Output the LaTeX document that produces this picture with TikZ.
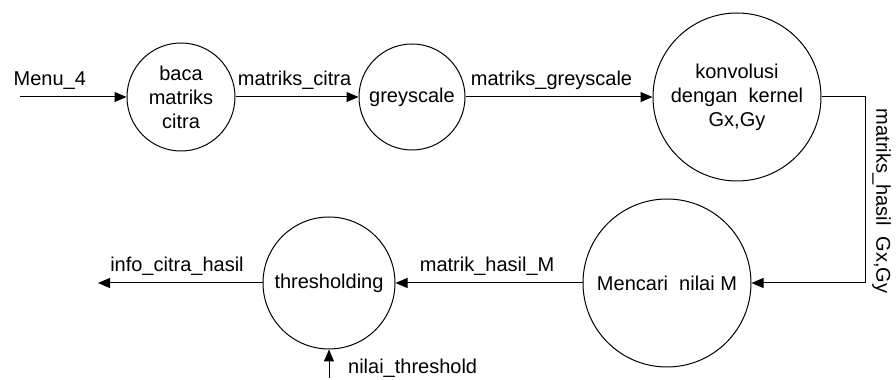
\documentclass[tikz,border=0pt]{standalone}
\usepackage{fontspec}
\setmainfont{Liberation Sans}
\usetikzlibrary{arrows.meta}

\tikzset{
	proses/.style={draw, circle, line width=0.5pt, align=center, inner sep=0pt},
	alir/.style={line width=0.5pt, -{Triangle[length=6pt,width=5pt]}}
}

\begin{document}
\begin{tikzpicture}[x=0.5pt, y=0.5pt]
		%%%%% START %%%%%
		
		\useasboundingbox (0,0) rectangle (896,380);
		
		\node[proses, minimum size=54pt] (baca) at (181,283) {baca\\matriks\\citra};
		\node[proses, minimum size=53pt] (grey) at (412,283) {greyscale};
		\node[proses, minimum size=84pt] (konv) at (737,283) {konvolusi\\dengan~~kernel\\Gx,Gy};
		\node[proses, minimum size=84pt] (nilaiM) at (667,97) {Mencari~~nilai M};
		\node[proses, minimum size=66pt] (thresh) at (329,97) {thresholding};
		
		\coordinate (menu) at (20,283);
		\coordinate (belok1) at (865,283);
		\coordinate (belok2) at (865,97);
		\coordinate (info) at (98,97);
		\coordinate (batas) at (329,2);
		
		\draw[alir] (menu) -- node[pos=0.28, above] {Menu\_4} (baca);
		\draw[alir] (baca) -- node[pos=0.48, above] {matriks\_citra} (grey);
		\draw[alir] (grey) -- node[pos=0.46, above] {matriks\_greyscale} (konv);
		\draw[alir] (konv.east) -- (belok1) -- node[pos=0.56, rotate=-90, anchor=south] {matriks\_hasil~~Gx,Gy} (belok2) -- (nilaiM.east);
		\draw[alir] (nilaiM) -- node[pos=0.51, above] {matrik\_hasil\_M} (thresh);
		\draw[alir] (thresh) -- node[pos=0.52, above] {info\_citra\_hasil} (info);
		\draw[alir] (batas) -- node[pos=0.35, right, xshift=6pt] {nilai\_threshold} (thresh);
		
		%%%%% END %%%%%
	\end{tikzpicture}
\end{document}
